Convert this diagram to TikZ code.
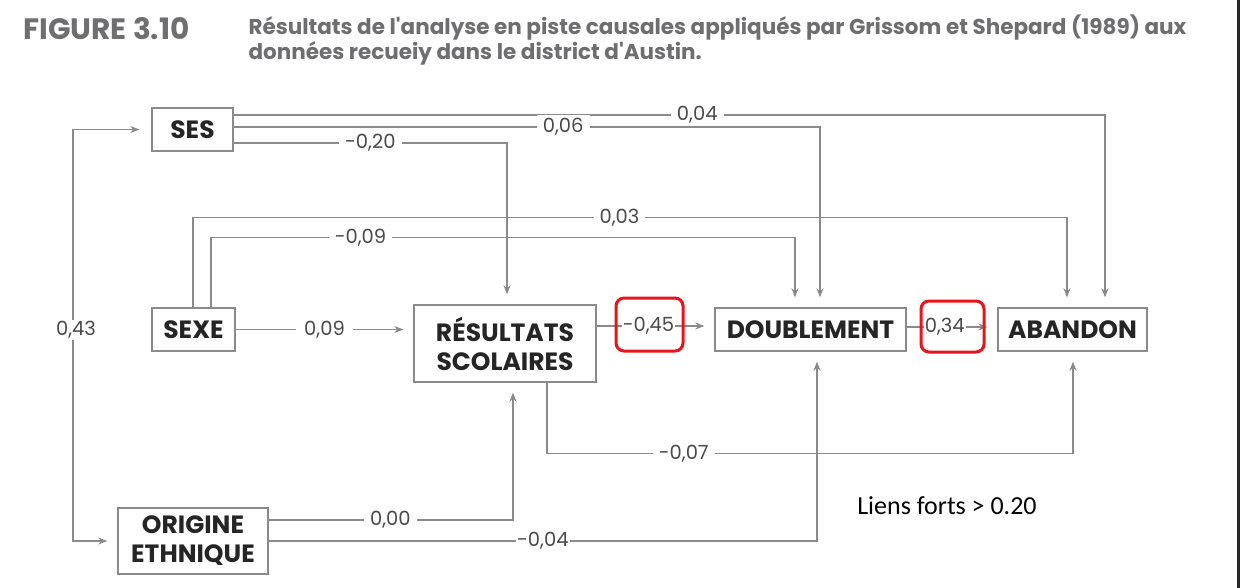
\documentclass[tikz,border=0pt]{standalone}
\usepackage{fontspec}
\setmainfont{Poppins}
\newfontfamily\notefont{Carlito}
\usepackage{tikz}
\usetikzlibrary{arrows.meta}
\definecolor{linegray}{HTML}{8A8A8A}
\definecolor{boxtext}{HTML}{252525}
\definecolor{coeftext}{HTML}{4A4A4A}
\definecolor{titlegray}{HTML}{6E6E70}
\definecolor{markred}{HTML}{E8141C}
\newcommand{\boxfont}{\bfseries\fontsize{25}{29}\selectfont}
\newcommand{\coeffont}{\fontsize{19.5}{23}\selectfont}

\begin{document}
\begin{tikzpicture}[x=1pt,y=-1pt,
	var/.style={draw=linegray,line width=1.4pt,fill=white,text=boxtext,font=\boxfont,align=center,inner sep=0pt},
	coef/.style={fill=white,text=coeftext,font=\coeffont,inner ysep=3pt,inner xsep=6pt},
	tight/.style={inner sep=1pt},
	link/.style={draw=linegray,line width=1.3pt,-{Stealth[length=9pt,width=7pt]},shorten >=10pt},
	strong/.style={draw=markred,line width=3pt,rounded corners=8pt}]
	\fill[white] (0,0) rectangle (1240,588);
	\useasboundingbox (0,0) rectangle (1240,588);
	% titre
	\node[anchor=west,text=titlegray,font=\bfseries\fontsize{29.5}{34}\selectfont] (fig) at (20,29) {FIGURE 3.10};
	\node[anchor=north west,text=titlegray,align=left,font=\bfseries\fontsize{21.5}{25}\selectfont] (cap) at (245,11)
		{R\'esultats de l\textquotesingle analyse en piste causales appliqu\'es par Grissom et Shepard (1989) aux\\donn\'ees recueiy dans le district d\textquotesingle Austin.};
	% variables
	\node[var,minimum width=81pt,minimum height=43pt] (ses) at (192.5,129.5) {SES};
	\node[var,minimum width=83pt,minimum height=43pt] (sexe) at (193.5,329.5) {SEXE};
	\node[var,minimum width=182pt,minimum height=77pt] (res) at (505,343.5) {R\'ESULTATS\\SCOLAIRES};
	\node[var,minimum width=191pt,minimum height=43pt] (doub) at (810.5,329.5) {DOUBLEMENT};
	\node[var,minimum width=149pt,minimum height=43pt] (aban) at (1072.5,329.5) {ABANDON};
	\node[var,minimum width=150pt,minimum height=66pt] (orig) at (193,541) {ORIGINE\\ETHNIQUE};
	% liens
	\coordinate (left) at (73,330);
	\draw[link,{Stealth[length=9pt,width=7pt]}-{Stealth[length=9pt,width=7pt]},shorten <=12pt] (ses.west) -| (left) |- (orig.west);
	\node[coef,tight] (c43) at (76,330) {0,43};
	\draw[link] ([yshift=14.5pt]ses.east) -| node[coef,pos=0.266] (c04) {0,04} ([xshift=32.5pt]aban.north);
	\draw[link] ([yshift=2.5pt]ses.east) -| node[coef,pos=0.281] (c06) {0,06} ([xshift=9.5pt]doub.north);
	\draw[link] ([yshift=-13.5pt]ses.east) -| node[coef,pos=0.25] (c20) {-0,20} ([xshift=2pt]res.north);
	\draw[link] ([xshift=-0.5pt]sexe.north) -- ++(0,-90) -| node[coef,pos=0.244] (c03) {0,03} ([xshift=-5.5pt]aban.north);
	\draw[link] ([xshift=17.5pt]sexe.north) -- ++(0,-70) -| node[coef,pos=0.128] (c09m) {-0,09} ([xshift=-15.5pt]doub.north);
	\draw[link] (sexe.east) -- node[coef,inner xsep=8pt] (c09) {0,09} (sexe.east -| res.west);
	\draw[link] ([yshift=3.5pt]doub.west -| res.east) -- node[coef,tight,pos=0.44] (c45) {-0,45} ([yshift=3.5pt]doub.west);
	\draw[link] ([yshift=2.5pt]doub.east) -- node[coef,tight,pos=0.42] (c34) {0,34} ([yshift=2.5pt]aban.west);
	\draw[link] ([xshift=42pt]res.south) -- ++(0,71) -| node[coef,pos=0.13] (c07) {-0,07} ([xshift=0.5pt]aban.south);
	\draw[link] ([yshift=21pt]orig.east) -| node[coef,pos=0.249] (c00) {0,00} ([xshift=8pt]res.south);
	\draw[link] (orig.east) -| node[coef,tight,pos=0.25] (c04m) {-0,04} ([xshift=6.5pt]doub.south);
	% liens forts
	\node[strong,minimum width=67pt,minimum height=53pt] (hl45) at (649.5,324.5) {};
	\node[strong,minimum width=63pt,minimum height=51pt] (hl34) at (952.5,326.5) {};
	\node[font=\notefont\fontsize{26}{30}\selectfont] (note) at (947,506) {Liens forts > 0.20};
	\draw[line width=3pt,black!85] (1238.5,0) -- (1238.5,588);
\end{tikzpicture}
\end{document}
